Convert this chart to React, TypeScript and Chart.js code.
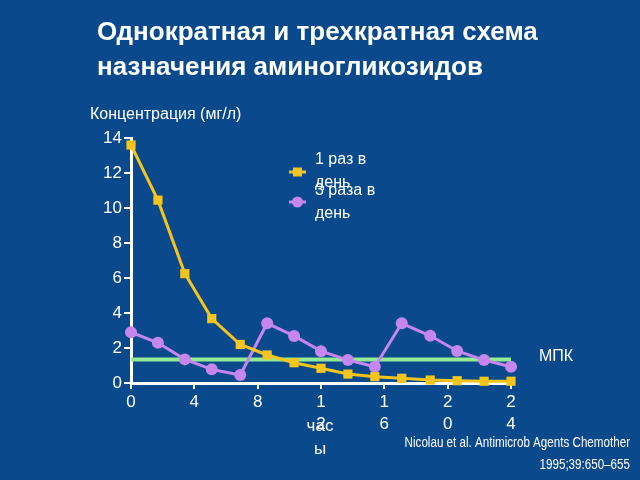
import React, { useEffect, useRef } from "react";
import { Chart, registerables } from "chart.js";

Chart.register(...registerables);

const hours = [0, 1.7, 3.4, 5.1, 6.9, 8.6, 10.3, 12, 13.7, 15.4, 17.1, 18.9, 20.6, 22.3, 24];
const onceDaily = [13.6, 10.45, 6.25, 3.68, 2.2, 1.6, 1.16, 0.84, 0.51, 0.36, 0.27, 0.17, 0.13, 0.1, 0.1];
const thriceDaily = [2.9, 2.3, 1.35, 0.78, 0.46, 3.41, 2.69, 1.82, 1.31, 0.93, 3.41, 2.7, 1.83, 1.31, 0.93];
const mic = 1.35;
const micRange = [0, 24];
const xTicks = [0, 4, 8, 12, 16, 20, 24];

const titleLines = ["Однократная и трехкратная схема", "назначения аминогликозидов"];
const yAxisLabel = "Концентрация (мг/л)";
const xAxisLabel = ["час", "ы"];
const legendOnce = ["1 раз в", "день"];
const legendThrice = ["3 раза в", "день"];
const micLabel = "МПК";
const citation = ["Nicolau et al. Antimicrob Agents Chemother", "1995;39:650–655"];

const BG = "#0a4a8c";
const YELLOW = "#f5c41d";
const PURPLE = "#c586ee";
const GREEN = "#93ec93";
const WHITE = "#ffffff";
const FONT = "'Liberation Sans', Arial, sans-serif";

const textPlugin = {
  id: "extraText",
  beforeDraw(chart: any) {
    const ctx = chart.ctx;
    ctx.save();
    ctx.fillStyle = BG;
    ctx.fillRect(0, 0, chart.width, chart.height);
    ctx.restore();
  },
  afterDraw(chart: any) {
    const ctx = chart.ctx;
    ctx.save();
    ctx.textBaseline = "middle";
    // title
    ctx.fillStyle = WHITE;
    ctx.font = `bold 26px ${FONT}`;
    ctx.textAlign = "left";
    ctx.fillText(titleLines[0], 97, 33);
    ctx.fillText(titleLines[1], 97, 68);
    // y axis label
    ctx.font = `16px ${FONT}`;
    ctx.fillText(yAxisLabel, 90, 115);
    // x axis label
    ctx.textAlign = "center";
    ctx.font = `17px ${FONT}`;
    ctx.fillText(xAxisLabel[0], 320, 426);
    ctx.fillText(xAxisLabel[1], 320, 449);
    // MIC label
    ctx.textAlign = "left";
    ctx.font = `16px ${FONT}`;
    ctx.fillText(micLabel, 539, 357);
    // legend
    const drawLegend = (y: number, color: string, style: string, lines: string[], ty: number) => {
      ctx.strokeStyle = color;
      ctx.lineWidth = 3;
      ctx.beginPath();
      ctx.moveTo(289, y);
      ctx.lineTo(306, y);
      ctx.stroke();
      ctx.fillStyle = color;
      if (style === "rect") {
        ctx.fillRect(293, y - 4.5, 9, 9);
      } else {
        ctx.beginPath();
        ctx.arc(297.5, y, 5.5, 0, Math.PI * 2);
        ctx.fill();
      }
      ctx.fillStyle = WHITE;
      ctx.font = `16px ${FONT}`;
      ctx.textAlign = "left";
      ctx.fillText(lines[0], 315, ty);
      ctx.fillText(lines[1], 315, ty + 23);
    };
    drawLegend(172, YELLOW, "rect", legendOnce, 160);
    drawLegend(202, PURPLE, "circle", legendThrice, 191);
    // citation (condensed)
    ctx.fillStyle = WHITE;
    ctx.textAlign = "right";
    ctx.font = `14px ${FONT}`;
    ctx.save();
    ctx.translate(630, 0);
    ctx.scale(0.83, 1);
    ctx.fillText(citation[0], 0, 443);
    ctx.fillText(citation[1], 0, 465);
    ctx.restore();
    ctx.restore();
  },
};

export default function App() {
  const ref = useRef<HTMLCanvasElement | null>(null);
  useEffect(() => {
    if (!ref.current) return;
    const chart = new Chart(ref.current, {
      type: "line",
      data: {
        datasets: [
          {
            label: "1 раз в день",
            data: hours.map((h, i) => ({ x: h, y: onceDaily[i] })),
            borderColor: YELLOW,
            backgroundColor: YELLOW,
            borderWidth: 3,
            pointStyle: "rect",
            pointRadius: 6.5,
            pointBorderWidth: 0,
            clip: false,
            order: 1,
          },
          {
            label: "3 раза в день",
            data: hours.map((h, i) => ({ x: h, y: thriceDaily[i] })),
            borderColor: PURPLE,
            backgroundColor: PURPLE,
            borderWidth: 3,
            pointStyle: "circle",
            pointRadius: 6,
            pointBorderWidth: 0,
            clip: false,
            order: 2,
          },
          {
            label: "МПК",
            data: micRange.map((h) => ({ x: h, y: mic })),
            borderColor: GREEN,
            borderWidth: 4,
            pointRadius: 0,
            clip: false,
            order: 3,
          },
        ],
      },
      options: {
        animation: false,
        responsive: false,
        maintainAspectRatio: false,
        layout: { padding: { top: 138, right: 129, bottom: 0, left: 0 } },
        plugins: { legend: { display: false }, tooltip: { enabled: false }, title: { display: false } },
        scales: {
          x: {
            type: "linear",
            min: 0,
            max: 24,
            afterBuildTicks: (scale: any) => {
              scale.ticks = xTicks.map((v) => ({ value: v }));
            },
            afterFit: (scale: any) => {
              scale.height = 97;
            },
            ticks: {
              color: WHITE,
              font: { family: FONT, size: 17, lineHeight: 1.3 },
              padding: 2,
              maxRotation: 0,
              autoSkip: false,
              callback: (v: any) => {
                const s = String(v);
                return s.length > 1 ? s.split("") : s;
              },
            },
            grid: { drawOnChartArea: false, drawTicks: true, tickLength: 6, color: WHITE, lineWidth: 2 },
            border: { color: WHITE, width: 3 },
          },
          y: {
            min: 0,
            max: 14,
            afterFit: (scale: any) => {
              scale.width = 131;
            },
            ticks: {
              stepSize: 2,
              color: WHITE,
              font: { family: FONT, size: 17 },
              padding: 2,
            },
            grid: { drawOnChartArea: false, drawTicks: true, tickLength: 7, color: WHITE, lineWidth: 2 },
            border: { color: WHITE, width: 3 },
          },
        },
      },
      plugins: [textPlugin],
    } as any);
    return () => chart.destroy();
  }, []);
  return (
    <div style={{ position: "fixed", left: 0, top: 0, width: 640, height: 480, background: BG }}>
      <canvas ref={ref} width={640} height={480} style={{ display: "block" }} />
    </div>
  );
}
